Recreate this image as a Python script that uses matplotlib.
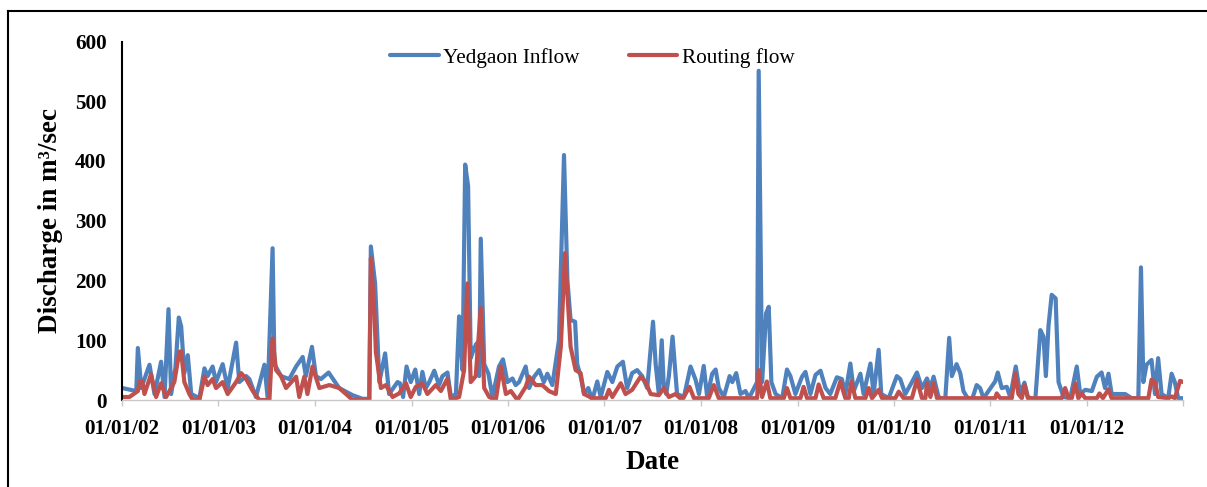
import pandas as pd
import matplotlib.pyplot as plt
import matplotlib.dates as mdates
from matplotlib.lines import Line2D

# Yedgaon inflow (m3/sec)
inflow_dates = [
    "2002-01-02", "2002-02-24", "2002-03-02", "2002-03-15", "2002-04-15", "2002-05-04",
    "2002-05-29", "2002-06-11", "2002-06-26", "2002-07-06", "2002-07-22", "2002-08-04",
    "2002-08-13", "2002-08-25", "2002-09-07", "2002-09-20", "2002-10-21", "2002-11-09",
    "2002-11-21", "2002-12-10", "2002-12-23", "2003-01-17", "2003-02-05", "2003-03-09",
    "2003-03-21", "2003-04-16", "2003-04-28", "2003-05-23", "2003-06-24", "2003-07-06",
    "2003-07-25", "2003-08-01", "2003-08-26", "2003-09-26", "2003-10-22", "2003-11-16",
    "2003-11-28", "2003-12-21", "2004-01-05", "2004-01-24", "2004-02-22", "2004-04-02",
    "2004-05-23", "2004-06-29", "2004-07-25", "2004-07-31", "2004-08-16", "2004-09-01",
    "2004-09-23", "2004-10-08", "2004-11-09", "2004-11-18", "2004-11-30", "2004-12-13",
    "2004-12-29", "2005-01-15", "2005-01-30", "2005-02-11", "2005-02-24", "2005-03-09",
    "2005-03-28", "2005-04-15", "2005-04-28", "2005-05-17", "2005-05-30", "2005-06-18",
    "2005-06-30", "2005-07-13", "2005-07-23", "2005-08-03", "2005-08-13", "2005-08-26",
    "2005-09-05", "2005-09-14", "2005-09-20", "2005-10-03", "2005-10-19", "2005-11-03",
    "2005-11-28", "2005-12-13", "2005-12-30", "2006-01-18", "2006-01-30", "2006-02-12",
    "2006-03-09", "2006-03-22", "2006-04-10", "2006-04-29", "2006-05-17", "2006-05-30",
    "2006-06-18", "2006-07-13", "2006-08-01", "2006-08-14", "2006-08-26", "2006-09-12",
    "2006-09-20", "2006-10-03", "2006-10-16", "2006-11-01", "2006-11-16", "2006-12-05",
    "2006-12-18", "2007-01-12", "2007-01-31", "2007-02-19", "2007-03-12", "2007-03-28",
    "2007-04-16", "2007-05-05", "2007-05-24", "2007-06-12", "2007-07-04", "2007-07-14",
    "2007-07-26", "2007-08-06", "2007-08-14", "2007-08-23", "2007-09-02", "2007-09-16",
    "2007-10-03", "2007-10-29", "2007-11-23", "2007-12-12", "2007-12-25", "2008-01-12",
    "2008-01-25", "2008-02-13", "2008-02-26", "2008-03-09", "2008-03-28", "2008-04-19",
    "2008-04-29", "2008-05-14", "2008-05-30", "2008-06-18", "2008-07-01", "2008-08-01",
    "2008-08-07", "2008-08-20", "2008-09-04", "2008-09-14", "2008-09-24", "2008-10-10",
    "2008-11-04", "2008-11-22", "2008-12-05", "2008-12-24", "2009-01-18", "2009-01-31",
    "2009-02-19", "2009-03-10", "2009-03-29", "2009-04-17", "2009-05-05", "2009-05-30",
    "2009-06-18", "2009-07-01", "2009-07-20", "2009-08-02", "2009-08-27", "2009-09-08",
    "2009-10-04", "2009-10-16", "2009-11-04", "2009-11-14", "2009-12-12", "2010-01-12",
    "2010-01-25", "2010-02-13", "2010-03-10", "2010-03-29", "2010-04-17", "2010-05-06",
    "2010-05-19", "2010-05-31", "2010-06-19", "2010-07-14", "2010-07-29", "2010-08-08",
    "2010-08-26", "2010-09-09", "2010-09-21", "2010-10-04", "2010-10-23", "2010-11-10",
    "2010-11-23", "2010-12-06", "2011-01-19", "2011-01-29", "2011-02-13", "2011-03-04",
    "2011-03-17", "2011-04-07", "2011-04-24", "2011-05-10", "2011-05-23", "2011-06-20",
    "2011-07-09", "2011-07-21", "2011-07-30", "2011-08-09", "2011-08-21", "2011-09-05",
    "2011-09-16", "2011-10-05", "2011-10-30", "2011-11-11", "2011-11-24", "2011-12-07",
    "2011-12-26", "2012-01-20", "2012-02-08", "2012-02-26", "2012-03-10", "2012-03-23",
    "2012-04-04", "2012-05-06", "2012-05-25", "2012-06-19", "2012-07-14", "2012-07-24",
    "2012-08-02", "2012-08-14", "2012-09-02", "2012-09-15", "2012-09-27", "2012-10-10",
    "2012-11-04", "2012-11-17", "2012-11-29", "2012-12-12", "2012-12-31",
]
inflow_values = [
    20, 15, 87, 20, 59, 10,
    64, 5, 152, 10, 53, 138,
    123, 45, 75, 10, 3, 53,
    40, 56, 30, 60, 20, 96,
    30, 40, 35, 5, 59, 5,
    254, 60, 40, 35, 56, 72,
    40, 89, 40, 35, 46, 20,
    8, 2, 2, 257, 195, 30,
    78, 10, 30, 28, 5, 56,
    30, 51, 10, 47, 20, 30,
    49, 25, 40, 46, 5, 10,
    140, 50, 394, 358, 70, 87,
    95, 40, 270, 60, 44, 5,
    56, 68, 30, 36, 25, 30,
    56, 20, 39, 50, 30, 44,
    25, 100, 410, 200, 134, 131,
    60, 40, 10, 20, 0, 31,
    5, 47, 30, 56, 64, 20,
    45, 50, 40, 20, 131, 60,
    10, 100, 20, 10, 40, 106,
    10, 5, 56, 34, 10, 57,
    5, 44, 51, 20, 5, 40,
    30, 45, 10, 15, 3, 30,
    551, 30, 145, 156, 30, 10,
    3, 51, 40, 10, 39, 47,
    10, 42, 49, 20, 10, 38,
    35, 10, 61, 15, 44, 10,
    61, 10, 84, 10, 3, 40,
    35, 10, 30, 46, 20, 36,
    20, 39, 5, 0, 104, 40,
    60, 45, 15, 5, 0, 25,
    20, 3, 31, 46, 20, 22,
    5, 56, 10, 29, 5, 0,
    117, 106, 40, 124, 176, 170,
    30, 5, 3, 28, 56, 10,
    17, 15, 39, 46, 20, 44,
    10, 10, 10, 3, 3, 222,
    30, 59, 67, 10, 70, 10,
    3, 44, 30, 3, 3,
]

# Routing flow (m3/sec)
routing_dates = [
    "2002-01-02", "2002-01-29", "2002-03-02", "2002-03-09", "2002-03-19", "2002-03-27",
    "2002-04-21", "2002-05-10", "2002-05-29", "2002-06-17", "2002-07-18", "2002-08-06",
    "2002-08-13", "2002-08-25", "2002-09-13", "2002-09-26", "2002-10-21", "2002-11-09",
    "2002-11-21", "2002-12-10", "2002-12-23", "2003-01-17", "2003-02-05", "2003-03-09",
    "2003-03-28", "2003-04-16", "2003-05-11", "2003-06-05", "2003-07-13", "2003-07-25",
    "2003-08-07", "2003-08-26", "2003-09-14", "2003-10-22", "2003-11-03", "2003-11-22",
    "2003-12-04", "2003-12-23", "2004-01-18", "2004-02-25", "2004-04-02", "2004-04-28",
    "2004-05-23", "2004-07-25", "2004-07-31", "2004-08-13", "2004-08-19", "2004-09-07",
    "2004-09-26", "2004-10-21", "2004-11-15", "2004-12-11", "2004-12-29", "2005-01-17",
    "2005-02-11", "2005-03-02", "2005-04-03", "2005-04-22", "2005-05-17", "2005-05-30",
    "2005-06-30", "2005-07-19", "2005-07-31", "2005-08-13", "2005-09-01", "2005-09-20",
    "2005-10-03", "2005-10-22", "2005-11-16", "2005-12-05", "2005-12-24", "2006-01-12",
    "2006-02-06", "2006-03-09", "2006-03-22", "2006-04-16", "2006-05-11", "2006-06-05",
    "2006-07-01", "2006-07-20", "2006-08-05", "2006-08-14", "2006-08-26", "2006-09-14",
    "2006-10-03", "2006-10-16", "2006-11-16", "2007-01-06", "2007-01-18", "2007-01-31",
    "2007-03-04", "2007-03-22", "2007-04-16", "2007-05-18", "2007-06-06", "2007-06-25",
    "2007-07-26", "2007-08-14", "2007-09-02", "2007-09-27", "2007-10-22", "2007-11-19",
    "2007-12-06", "2008-01-31", "2008-02-19", "2008-03-09", "2008-08-01", "2008-08-07",
    "2008-08-20", "2008-09-07", "2008-09-20", "2008-11-10", "2008-11-22", "2008-12-05",
    "2009-01-12", "2009-01-24", "2009-02-06", "2009-03-10", "2009-03-22", "2009-04-10",
    "2009-05-24", "2009-06-12", "2009-07-01", "2009-07-14", "2009-07-24", "2009-08-08",
    "2009-09-15", "2009-09-27", "2009-10-10", "2009-11-04", "2009-11-17", "2010-01-06",
    "2010-01-19", "2010-02-07", "2010-03-10", "2010-03-29", "2010-04-17", "2010-04-30",
    "2010-05-06", "2010-05-19", "2010-05-31", "2010-06-13", "2011-01-19", "2011-01-25",
    "2011-02-07", "2011-03-23", "2011-04-05", "2011-04-17", "2011-04-30", "2011-05-10",
    "2011-05-23", "2011-09-28", "2011-10-11", "2011-10-24", "2011-11-05", "2011-11-18",
    "2011-11-30", "2011-12-13", "2011-12-26", "2012-02-08", "2012-02-18", "2012-03-02",
    "2012-03-23", "2012-04-04", "2012-08-21", "2012-09-02", "2012-09-15", "2012-09-27",
    "2012-11-04", "2012-11-17", "2012-11-29", "2012-12-19", "2012-12-31",
]
routing_values = [
    5, 5, 15, 31, 31, 10,
    43, 5, 28, 5, 30, 81,
    81, 30, 10, 0, 0, 39,
    25, 35, 20, 30, 10, 30,
    45, 35, 15, 0, 0, 103,
    50, 40, 20, 39, 5, 39,
    10, 56, 20, 25, 20, 10,
    0, 0, 237, 150, 80, 20,
    25, 5, 11, 28, 5, 22,
    28, 10, 25, 15, 36, 0,
    5, 50, 195, 30, 40, 154,
    20, 5, 0, 56, 10, 15,
    0, 22, 39, 25, 25, 15,
    10, 89, 246, 180, 89, 50,
    45, 10, 3, 3, 17, 5,
    28, 10, 17, 39, 30, 10,
    8, 20, 5, 10, 0, 22,
    3, 3, 25, 3, 3, 50,
    5, 31, 3, 3, 20, 3,
    3, 22, 3, 3, 26, 3,
    3, 31, 3, 3, 31, 3,
    3, 20, 3, 17, 3, 3,
    14, 3, 3, 34, 3, 3,
    28, 5, 28, 3, 3, 11,
    3, 3, 45, 10, 3, 25,
    3, 3, 20, 3, 3, 28,
    3, 11, 3, 3, 11, 3,
    18, 3, 3, 34, 30, 5,
    3, 6, 3, 32, 30,
]

inflow = pd.Series(inflow_values, index=pd.to_datetime(inflow_dates))
routing = pd.Series(routing_values, index=pd.to_datetime(routing_dates))

serif = "Liberation Serif"
blue = "#4F81BD"
red = "#C0504D"

fig = plt.figure(figsize=(12.07, 4.87), dpi=100)
ax = fig.add_axes([122 / 1207, 1 - 400 / 487, (1183.5 - 122) / 1207, (400 - 41.5) / 487])

ax.plot(inflow.index, inflow.values, color=blue, lw=3.0, solid_joinstyle="round",
        solid_capstyle="round", label="Yedgaon Inflow")
ax.plot(routing.index, routing.values, color=red, lw=3.0, solid_joinstyle="round",
        solid_capstyle="round", label="Routing flow")

ax.set_xlim(pd.Timestamp("2002-01-01"), pd.Timestamp("2013-01-01"))
ax.set_ylim(0, 600)
ax.set_yticks(range(0, 601, 100))
ax.xaxis.set_major_locator(mdates.YearLocator())
ax.xaxis.set_major_formatter(mdates.DateFormatter("%d/%m/%y"))

# spines: black y axis, light grey x axis, nothing else
for side in ["top", "right"]:
    ax.spines[side].set_visible(False)
ax.spines["left"].set_color("black")
ax.spines["left"].set_linewidth(1.5)
ax.spines["bottom"].set_color("#C8C8C8")
ax.spines["bottom"].set_linewidth(1.0)

ax.tick_params(axis="y", length=0, pad=11)
ax.tick_params(axis="x", length=4, width=1, color="#C8C8C8", pad=10)
for lab in ax.get_xticklabels() + ax.get_yticklabels():
    lab.set_fontfamily(serif)
    lab.set_fontweight("bold")
    lab.set_fontsize(15.2)

# last tick label (01/01/13) is not shown in the original
ax.get_xticklabels()[-1].set_visible(False)

ax.set_ylabel("Discharge in m³/sec", fontfamily=serif, fontweight="bold", fontsize=19.5)
ax.yaxis.set_label_coords(-0.056, 0.5)
ax.set_xlabel("Date", fontfamily=serif, fontweight="bold", fontsize=19.5)
ax.xaxis.set_label_coords(0.5, -0.139)

ax.legend(loc="center", bbox_to_anchor=(0.443, 0.955), ncol=2, frameon=False,
          prop={"family": serif, "size": 15.3}, handlelength=2.3, handletextpad=0.2,
          columnspacing=2.3)

# outer frame (top and left edges visible)
fig.add_artist(Line2D([8 / 1207, 8 / 1207], [0, 1 - 11 / 487], transform=fig.transFigure,
                      color="black", lw=1.5))
fig.add_artist(Line2D([8 / 1207, 1], [1 - 11 / 487, 1 - 11 / 487], transform=fig.transFigure,
                      color="black", lw=1.5))

plt.savefig("out.png", dpi=100)
